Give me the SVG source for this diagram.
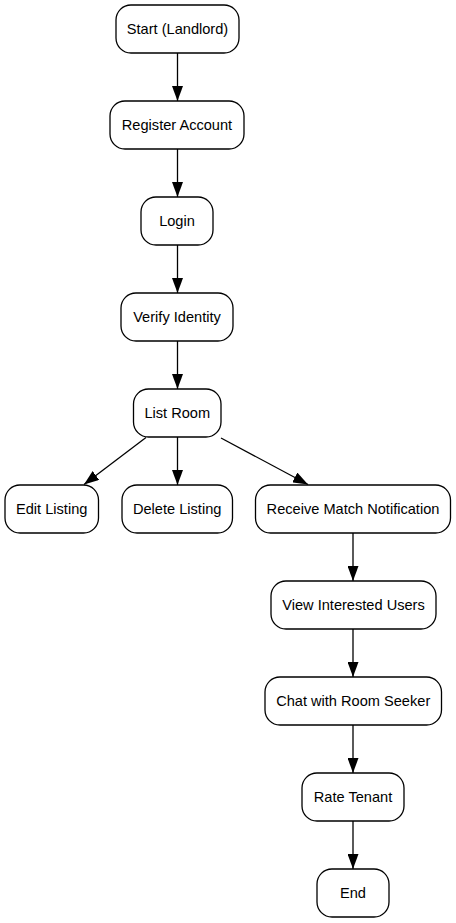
<svg xmlns="http://www.w3.org/2000/svg" width="456" height="923" viewBox="0 0 456 923">
<defs>
<style>
.node rect{fill:#ffffff;stroke:#000000;stroke-width:1.3}
.node text{font-family:"Liberation Sans",Arial,sans-serif;font-size:14.6px;fill:#000000;text-anchor:middle;dominant-baseline:central}
.edge{stroke:#000000;stroke-width:1.3;fill:none;marker-end:url(#arrow)}
</style>
<marker id="arrow" viewBox="0 0 15 11" refX="15" refY="5.5" markerWidth="15" markerHeight="11" markerUnits="userSpaceOnUse" orient="auto">
<path d="M0,0 L15,5.5 L0,11 z" fill="#000000"/>
</marker>
</defs>
<rect width="456" height="923" fill="#ffffff"/>
<g id="connectors">
<line class="edge" x1="177.5" y1="53" x2="177.5" y2="101"/>
<line class="edge" x1="177.5" y1="149" x2="177.5" y2="197"/>
<line class="edge" x1="177.5" y1="245" x2="177.5" y2="293"/>
<line class="edge" x1="177.5" y1="341" x2="177.5" y2="389"/>
<line class="edge" x1="146" y1="437.5" x2="84" y2="484.5"/>
<line class="edge" x1="177.5" y1="437" x2="177.5" y2="485"/>
<line class="edge" x1="221" y1="438" x2="308" y2="484.5"/>
<line class="edge" x1="353" y1="533" x2="353" y2="581"/>
<line class="edge" x1="353" y1="629" x2="353" y2="677"/>
<line class="edge" x1="353" y1="725" x2="353" y2="773"/>
<line class="edge" x1="353" y1="821" x2="353" y2="869"/>
</g>
<g id="start" class="node"><rect x="116" y="5" width="123" height="48" rx="15"/><text x="177.5" y="29">Start (Landlord)</text></g>
<g id="register" class="node"><rect x="110" y="101" width="134" height="48" rx="15"/><text x="177" y="125">Register Account</text></g>
<g id="login" class="node"><rect x="141" y="197" width="72" height="48" rx="15"/><text x="177" y="221">Login</text></g>
<g id="verify" class="node"><rect x="121" y="293" width="112" height="48" rx="15"/><text x="177" y="317">Verify Identity</text></g>
<g id="listroom" class="node"><rect x="133.5" y="389" width="87.5" height="48" rx="15"/><text x="177.3" y="413">List Room</text></g>
<g id="edit" class="node"><rect x="5" y="485" width="93.5" height="48" rx="15"/><text x="51.7" y="509">Edit Listing</text></g>
<g id="delete" class="node"><rect x="122" y="485" width="110.5" height="48" rx="15"/><text x="177.2" y="509">Delete Listing</text></g>
<g id="receive" class="node"><rect x="255.5" y="485" width="195" height="48" rx="15"/><text x="353" y="509">Receive Match Notification</text></g>
<g id="view" class="node"><rect x="271" y="581" width="165" height="48" rx="15"/><text x="353.5" y="605">View Interested Users</text></g>
<g id="chat" class="node"><rect x="265" y="677" width="176.5" height="48" rx="15"/><text x="353.2" y="701">Chat with Room Seeker</text></g>
<g id="rate" class="node"><rect x="302" y="773" width="102" height="48" rx="15"/><text x="353" y="797">Rate Tenant</text></g>
<g id="end" class="node"><rect x="317" y="869" width="72" height="48" rx="15"/><text x="353" y="893">End</text></g>
</svg>
